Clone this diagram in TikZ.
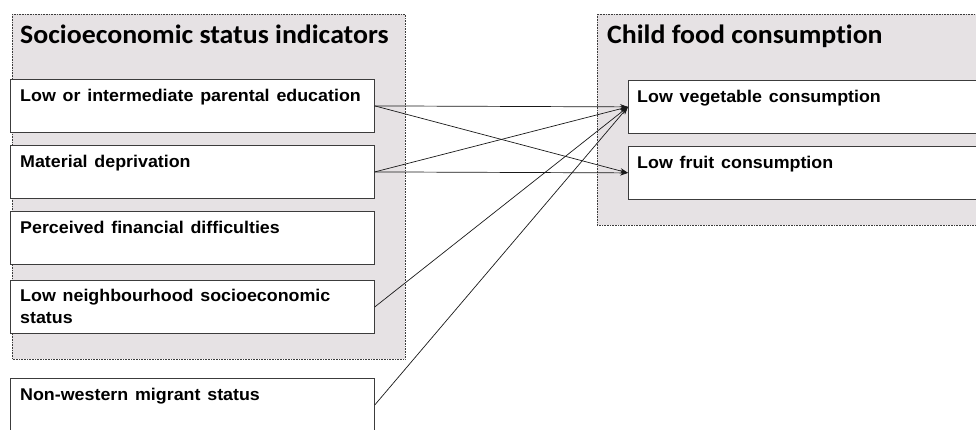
\documentclass[tikz,border=0pt]{standalone}
\usepackage{fontspec}
\setmainfont[FakeStretch=1.05]{Liberation Sans}
\newfontfamily\titlefont[Ligatures=NoCommon,FakeStretch=1.05]{Carlito}
\usetikzlibrary{arrows.meta}
\definecolor{panelfill}{RGB}{230,226,228}
\definecolor{edgegray}{RGB}{60,60,60}
\newcommand\myboxfont{\bfseries\fontsize{17}{22}\selectfont\spaceskip=0.4em plus 0.1em\relax}
\tikzset{
  panel/.style={draw=edgegray, densely dotted, line width=0.6pt, fill=panelfill},
  inbox/.style={draw=edgegray, line width=0.8pt, fill=white, inner sep=0pt, anchor=north west, minimum width=364pt, minimum height=53pt},
  outbox/.style={inbox, minimum width=370pt},
  paneltitle/.style={anchor=base west, inner sep=0pt, font=\titlefont\bfseries\fontsize{26.5}{30}\selectfont},
  boxtext/.style={anchor=base west, inner sep=0pt, align=left, font=\myboxfont},
  link/.style={draw=black!90, line width=0.7pt, -{Stealth[length=8pt,width=5.5pt]}}
}
\begin{document}
\begin{tikzpicture}[x=1pt,y=-1pt]
\useasboundingbox (0,0) rectangle (976,429);
\clip (0,0) rectangle (976,429);
% panels
\path[panel] (12,14) rectangle (405,359);
\path[panel] (597,14) rectangle (990,225);
\node[paneltitle] (t1) at (20,43) {Socioeconomic status indicators};
\node[paneltitle] (t2) at (607,43) {Child food consumption};
% left boxes
\node[inbox] (b1) at (10,79) {};
\node[inbox] (b2) at (10,145) {};
\node[inbox] (b3) at (10,211) {};
\node[inbox] (b4) at (10,280) {};
\node[inbox] (b5) at (10,378) {};
\node[boxtext] (l1) at (20,101) {Low or intermediate parental education};
\node[boxtext] (l2) at (20,167) {Material deprivation};
\node[boxtext] (l3) at (20,233) {Perceived financial difficulties};
\node[boxtext] (l4) at (20,323) {Low neighbourhood socioeconomic\\status};
\node[boxtext] (l5) at (20,400) {Non-western migrant status};
% right boxes
\node[outbox] (r1) at (628,80) {};
\node[outbox] (r2) at (628,146) {};
\node[boxtext] (m1) at (637,102) {Low vegetable consumption};
\node[boxtext] (m2) at (637,168) {Low fruit consumption};
% connectors
\draw[link] (b1.east) -- (r1.west);
\draw[link] (b1.east) -- (r2.west);
\draw[link] (b2.east) -- (r1.west);
\draw[link] (b2.east) -- (r2.west);
\draw[link] (b4.east) -- (r1.west);
\draw[link] (b5.east) -- (r1.west);
\end{tikzpicture}
\end{document}
